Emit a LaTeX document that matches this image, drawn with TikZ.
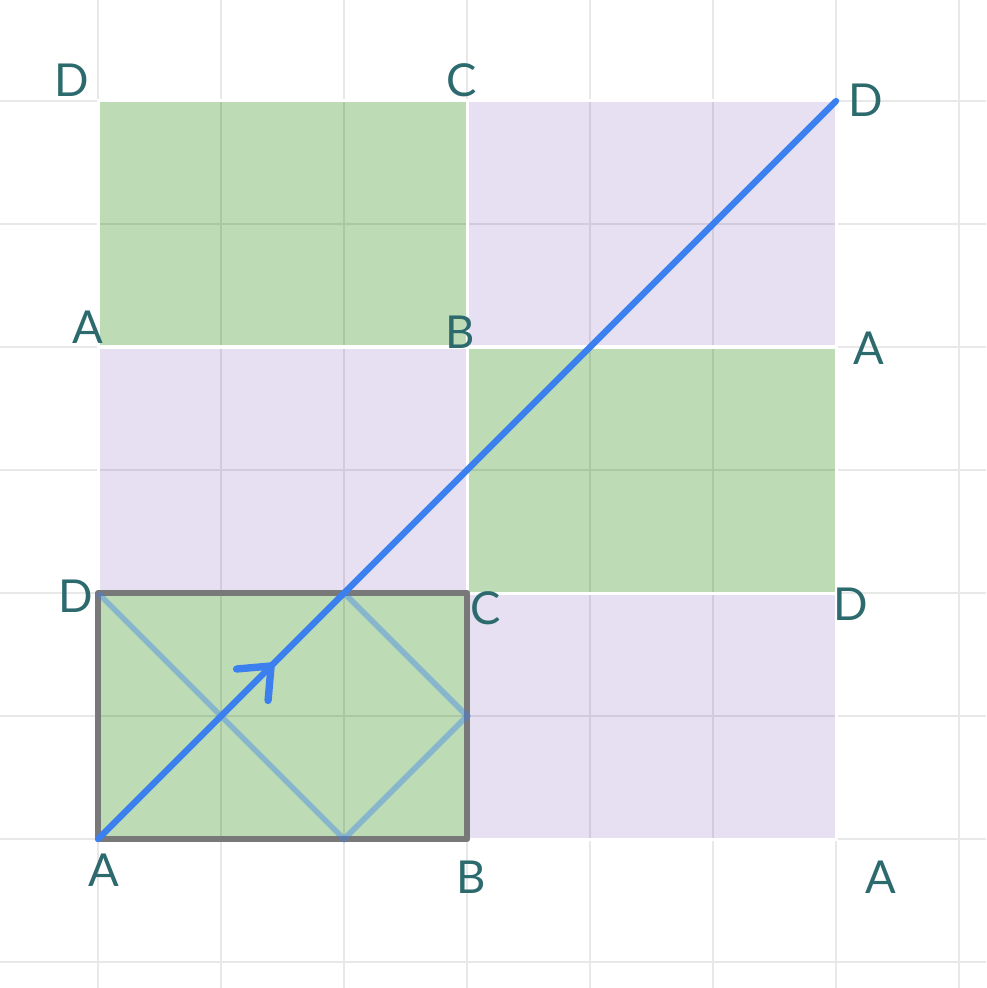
\documentclass[tikz,border=0pt]{standalone}
\usepackage{fontspec}
\setmainfont{Lato}
\usetikzlibrary{decorations.markings,arrows.meta}
\definecolor{tilegreen}{HTML}{BDDCB5}
\definecolor{tilepurple}{HTML}{E6E0F2}
\definecolor{labelteal}{HTML}{2C6A6E}
\definecolor{pathblue}{HTML}{3B80EE}

\begin{document}
\begin{tikzpicture}
\tikzstyle{gridline}=[black,opacity=0.09,line width=0.6pt]
\tikzstyle{tileedge}=[white,line width=0.7pt]
\tikzstyle{frame}=[draw=black!53,line width=1.45pt,line join=round]
\tikzstyle{bounce}=[pathblue,opacity=0.42,line width=1.3pt]
\tikzstyle{ray}=[pathblue,line width=1.45pt,line cap=round,
  postaction={decorate,decoration={markings,
  mark=at position 0.238 with {\arrow{Straight Barb[angle=80:8pt,round,line width=1.7pt]}}}}]
\tikzstyle{corner}=[text=labelteal,font=\fontsize{10.5}{12}\selectfont,inner sep=0pt]
\useasboundingbox (-0.797,-1.211) rectangle (7.220,6.821);
\clip (-0.797,-1.211) rectangle (7.220,6.821);
% tiles
\fill[tilegreen] (0,0) rectangle (3,2);
\fill[tilepurple] (3,0) rectangle (6,2);
\fill[tilepurple] (0,2) rectangle (3,4);
\fill[tilegreen] (3,2) rectangle (6,4);
\fill[tilegreen] (0,4) rectangle (3,6);
\fill[tilepurple] (3,4) rectangle (6,6);
\draw[gridline] (-1,-2) grid (8,8);
\foreach \x/\y in {0/0,3/0,0/2,3/2,0/4,3/4}
  \draw[tileedge] (\x,\y) rectangle ++(3,2);
% corners
\coordinate (A0) at (0,0);
\coordinate (P1) at (2,2);
\coordinate (P2) at (3,1);
\coordinate (P3) at (2,0);
\coordinate (P4) at (0,2);
\coordinate (D6) at (6,6);
\draw[frame] (0,0) rectangle (3,2);
\draw[bounce] (P1) -- (P2) -- (P3) -- (P4);
\draw[ray] (A0) -- (D6);
% labels
\node [corner] (dtl) at (-0.21,6.17) {D};
\node [corner] (ctm) at (2.96,6.17) {C};
\node [corner] (dtr) at (6.24,6.01) {D};
\node [corner] (aml) at (-0.08,4.16) {A};
\node [corner] (bmm) at (2.94,4.12) {B};
\node [corner] (amr) at (6.27,3.99) {A};
\node [corner] (dlo) at (-0.18,1.97) {D};
\node [corner] (clo) at (3.15,1.88) {C};
\node [corner] (dro) at (6.12,1.91) {D};
\node [corner] (abl) at (0.05,-0.25) {A};
\node [corner] (bbm) at (3.03,-0.31) {B};
\node [corner] (abr) at (6.36,-0.31) {A};
\end{tikzpicture}
\end{document}
